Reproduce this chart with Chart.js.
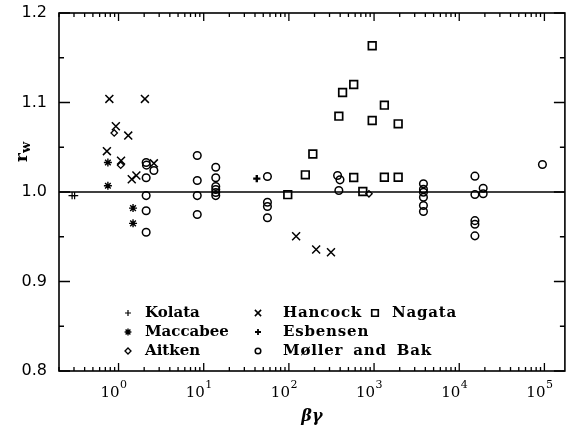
<!DOCTYPE html>
<html>
<head>
<meta charset="utf-8">
<script src="https://cdn.jsdelivr.net/npm/chart.js@4/dist/chart.umd.min.js"></script>
<style>
  body { margin: 0; background: #fff; }
  canvas { display: block; }
</style>
</head>
<body>
<canvas id="myChart" width="572" height="429"></canvas>
<script>
// axis ranges and tick labels
const X_MIN = 0.2;
const X_MAX = 1.74e5;
const Y_MIN = 0.8;
const Y_MAX = 1.2;
const xTickExps = [0, 1, 2, 3, 4, 5];
const yTicks = [0.8, 0.9, 1.0, 1.1, 1.2];
const yTickLabels = ["0.8", "0.9", "1.0", "1.1", "1.2"];

// data, [betaGamma, r_w]
const kolata = [[0.285, 0.996], [0.305, 0.996]];
const maccabee = [[0.75, 1.033], [0.75, 1.007], [1.48, 0.982], [1.48, 0.965]];
const aitken = [[0.89, 1.066], [1.06, 1.030], [871, 0.998]];
const hancock = [[0.78, 1.104], [2.04, 1.104], [0.93, 1.0735], [1.30, 1.063], [0.73, 1.0456],
  [1.07, 1.035], [2.60, 1.032], [1.43, 1.0143], [1.62, 1.0184], [121.6, 0.9506], [209, 0.9358], [312, 0.9327]];
const esbensen = [[42, 1.015]];
const nagata = [[97, 0.997], [156, 1.0192], [191, 1.0425], [386, 1.0847], [427, 1.1112], [577, 1.1201],
  [577, 1.0162], [738, 1.0006], [951, 1.1634], [951, 1.0799], [1321, 1.097], [1321, 1.0165],
  [1919, 1.0762], [1919, 1.0165]];
const moller = [[2.11, 1.033], [2.13, 1.030], [2.60, 1.024], [2.11, 1.0159], [2.11, 0.996], [2.11, 0.979], [2.11, 0.955],
  [8.4, 1.0408], [8.4, 1.0128], [8.4, 0.996], [8.4, 0.9749],
  [13.85, 1.0277], [13.85, 1.0159], [13.85, 1.0061], [13.85, 1.0028], [13.85, 0.9994], [13.85, 0.996],
  [56, 1.0173], [56, 0.9886], [56, 0.9838], [56, 0.9712],
  [373, 1.0184], [398, 1.0136], [386, 1.0017],
  [3800, 1.0092], [3800, 1.003], [3800, 0.9998], [3800, 0.9942], [3800, 0.9849], [3800, 0.9782],
  [15280, 1.0177], [15280, 0.9972], [19100, 1.0042], [19100, 0.998], [15280, 0.968], [15280, 0.964], [15280, 0.951],
  [94800, 1.0307]];
const unity = [[X_MIN, 1.0], [X_MAX, 1.0]];

function pts(arr) {
  return arr.map(p => ({ x: p[0], y: p[1] }));
}

function series(label, arr, style, radius, width, legendRadius) {
  return {
    type: 'scatter',
    label: label,
    data: pts(arr),
    pointStyle: style,
    pointRadius: radius,
    pointHoverRadius: radius,
    pointBorderWidth: width,
    legendRadius: legendRadius,
    borderColor: '#000',
    backgroundColor: 'rgba(0,0,0,0)',
    pointBorderColor: '#000',
    pointBackgroundColor: 'rgba(0,0,0,0)'
  };
}

const datasets = [
  series('Kolata', kolata, 'cross', 3.6, 1.2, 3),
  series('Maccabee', maccabee, 'star', 4, 1.4, 3.4),
  series('Aitken', aitken, 'rectRot', 3.2, 1.3, 3),
  series('Hancock', hancock, 'crossRot', 5.6, 1.5, 4.4),
  series('Esbensen', esbensen, 'cross', 3.6, 2.4, 3),
  series('Møller and Bak', moller, 'circle', 3.8, 1.5, 2.8),
  series('Nagata', nagata, 'rect', 5.4, 1.7, 4.6),
  {
    type: 'line',
    label: 'unity',
    data: pts(unity),
    borderColor: '#000',
    borderWidth: 1.5,
    pointRadius: 0,
    fill: false
  }
];

// legend layout: columns of labels
const legendCols = [['Kolata', 'Maccabee', 'Aitken'], ['Hancock', 'Esbensen', 'Møller and Bak'], ['Nagata']];

const SERIF = '"DejaVu Serif", "Liberation Serif", serif';

const framePlugin = {
  id: 'frame',
  afterDraw(chart) {
    const ctx = chart.ctx;
    const a = chart.chartArea;
    const xs = chart.scales.x;
    const ys = chart.scales.y;
    ctx.save();
    ctx.strokeStyle = '#000';
    ctx.fillStyle = '#000';
    ctx.lineWidth = 1.6;
    ctx.strokeRect(a.left, a.top, a.right - a.left, a.bottom - a.top);

    // x ticks, bottom and top, pointing inwards
    ctx.lineWidth = 1.3;
    for (let e = -1; e <= 6; e++) {
      for (let m = 1; m <= 9; m++) {
        const v = m * Math.pow(10, e);
        if (v < X_MIN || v > X_MAX) continue;
        const px = xs.getPixelForValue(v);
        const len = m === 1 ? 8 : 4;
        ctx.beginPath();
        ctx.moveTo(px, a.bottom);
        ctx.lineTo(px, a.bottom - len);
        ctx.moveTo(px, a.top);
        ctx.lineTo(px, a.top + len);
        ctx.stroke();
      }
    }
    // y ticks, left and right
    for (let v = Y_MIN; v <= Y_MAX + 1e-9; v += 0.05) {
      const py = ys.getPixelForValue(v);
      const major = Math.abs(Math.round(v * 10) - v * 10) < 1e-6;
      const len = major ? 11 : 5;
      ctx.beginPath();
      ctx.moveTo(a.left, py);
      ctx.lineTo(a.left + len, py);
      ctx.moveTo(a.right, py);
      ctx.lineTo(a.right - len, py);
      ctx.stroke();
    }

    // y tick labels
    ctx.font = '16px "DejaVu Sans", sans-serif';
    ctx.textAlign = 'right';
    ctx.textBaseline = 'middle';
    yTicks.forEach((v, i) => {
      ctx.fillText(yTickLabels[i], a.left - 12, ys.getPixelForValue(v));
    });

    // x tick labels 10^n
    ctx.textBaseline = 'alphabetic';
    ctx.textAlign = 'left';
    xTickExps.forEach(e => {
      const px = xs.getPixelForValue(Math.pow(10, e));
      ctx.font = '15px ' + SERIF;
      const wb = ctx.measureText('10').width;
      ctx.font = '11px ' + SERIF;
      const we = ctx.measureText(String(e)).width;
      const x0 = px - 5 - (wb + we) / 2;
      ctx.font = '15px ' + SERIF;
      ctx.fillText('10', x0, a.bottom + 26);
      ctx.font = '11px ' + SERIF;
      ctx.fillText(String(e), x0 + wb + 0.5, a.bottom + 17);
    });

    // x title
    ctx.font = 'italic bold 16px ' + SERIF;
    ctx.textAlign = 'center';
    ctx.fillText('βγ', (a.left + a.right) / 2, a.bottom + 50);

    // y title, rotated
    ctx.translate(27, 156);
    ctx.rotate(-Math.PI / 2);
    ctx.textAlign = 'left';
    ctx.font = 'bold 17px ' + SERIF;
    ctx.fillText('r', -6, 0);
    const wr = ctx.measureText('r').width;
    ctx.font = 'bold 13px ' + SERIF;
    ctx.fillText('w', -6 + wr, 3);
    ctx.setTransform(1, 0, 0, 1, 0, 0);

    // legend inside the plot
    const colX = [128, 258, 375];
    const textX = [145, 283, 392];
    const rowY = [313, 332, 351];
    ctx.font = 'bold 15px ' + SERIF;
    ctx.textAlign = 'left';
    ctx.textBaseline = 'middle';
    legendCols.forEach((col, ci) => {
      col.forEach((label, ri) => {
        const ds = chart.data.datasets.find(d => d.label === label);
        ctx.strokeStyle = '#000';
        ctx.fillStyle = 'rgba(0,0,0,0)';
        ctx.lineWidth = Math.min(ds.pointBorderWidth, 1.8);
        Chart.helpers.drawPoint(ctx, {
          pointStyle: ds.pointStyle,
          radius: ds.legendRadius,
          borderWidth: ctx.lineWidth,
          rotation: 0
        }, colX[ci], rowY[ri]);
        ctx.fillStyle = '#000';
        ctx.letterSpacing = ci === 0 ? '0px' : '0.8px';
        ctx.wordSpacing = '4px';
        ctx.fillText(label, textX[ci], rowY[ri]);
      });
    });
    ctx.restore();
  }
};

var ctx = document.getElementById('myChart').getContext('2d');
var chart = new Chart(ctx, {
  type: 'scatter',
  data: { datasets: datasets },
  options: {
    responsive: false,
    animation: false,
    layout: { padding: { left: 59, right: 1, top: 13, bottom: 58 } },
    plugins: { legend: { display: false }, tooltip: { enabled: false } },
    scales: {
      x: { type: 'logarithmic', min: X_MIN, max: X_MAX, display: false },
      y: { type: 'linear', min: Y_MIN, max: Y_MAX, display: false }
    }
  },
  plugins: [framePlugin]
});
</script>
</body>
</html>
